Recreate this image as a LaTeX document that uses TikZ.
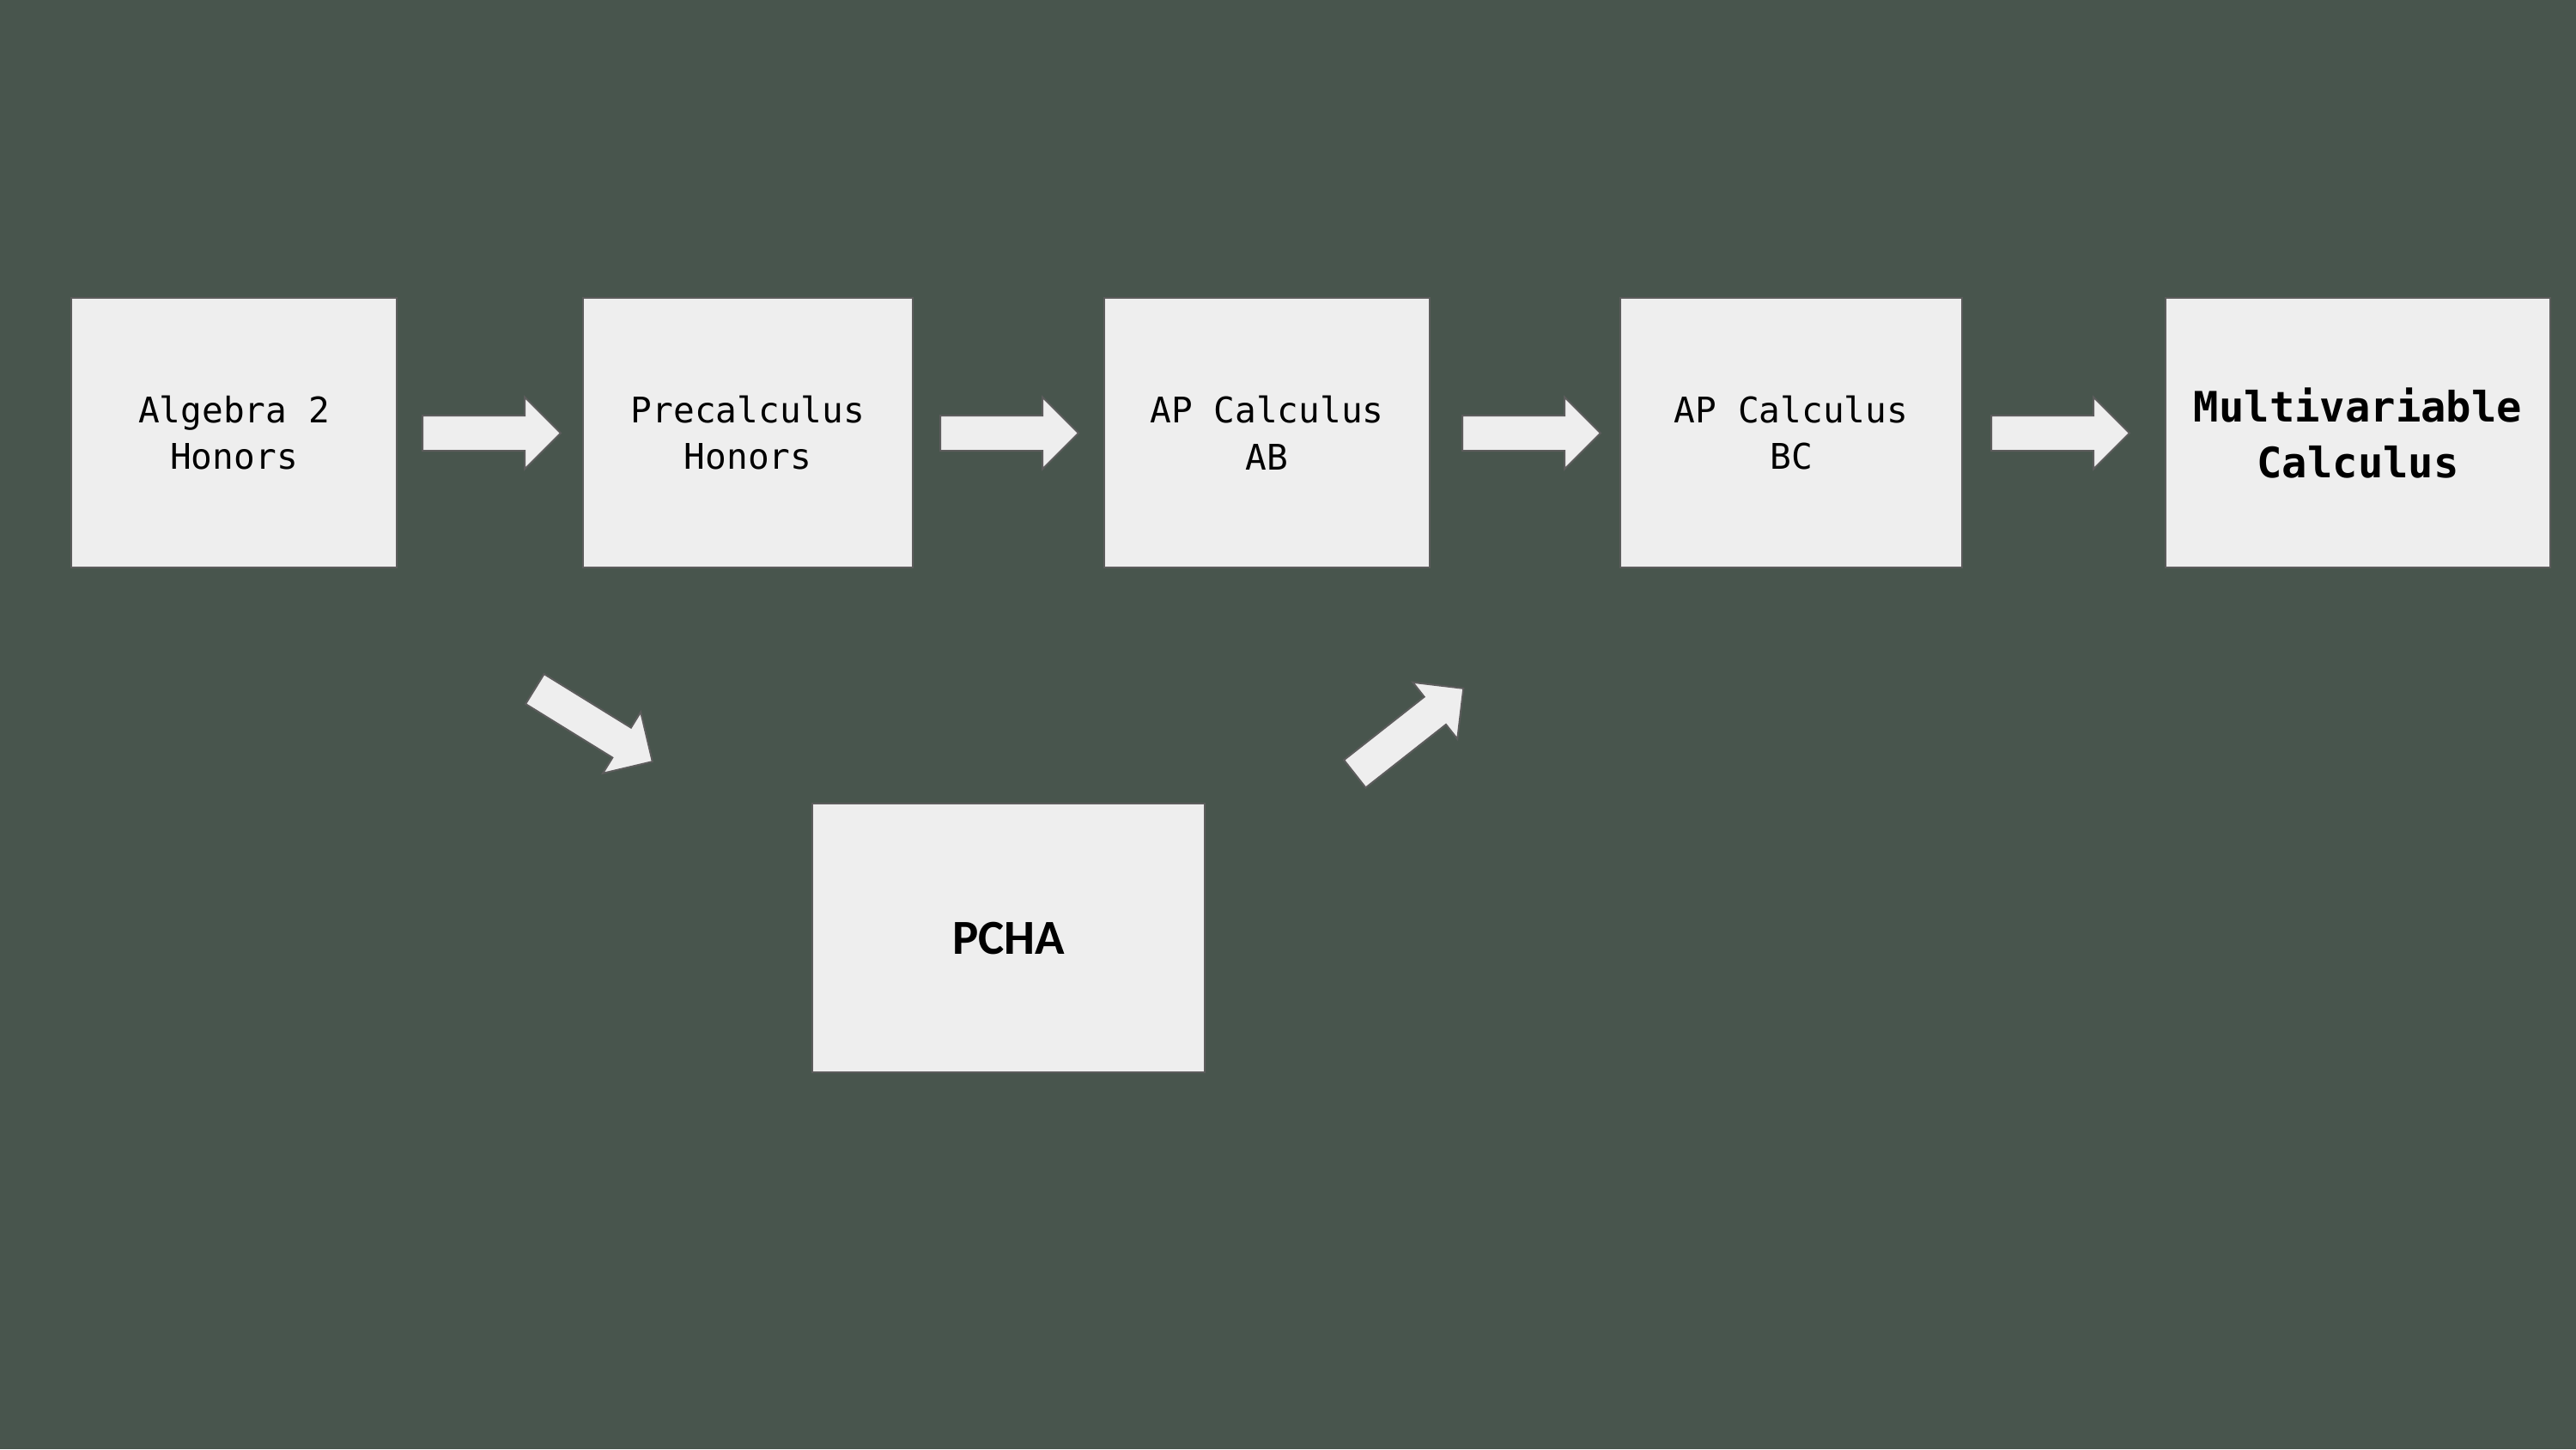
\documentclass[tikz,border=0pt]{standalone}
\usepackage{fontspec}
\setmonofont{DejaVu Sans Mono}
\newfontfamily\pchafont{Carlito}
\usepackage{tikz}
\usetikzlibrary{shapes.geometric, shapes.arrows}
\definecolor{slate}{RGB}{72,85,77}
\definecolor{paper}{RGB}{238,238,238}
\definecolor{edge}{RGB}{92,92,92}

\begin{document}
\begin{tikzpicture}[ ]
%Declaration of styles
	\tikzstyle{course} = [rectangle, minimum height=3.14cm, fill=paper, draw=edge, line width=0.02cm, inner sep=0pt, align=center, text=black, font=\ttfamily\fontsize{11.7pt}{15.6pt}\selectfont] %style for the course boxes
	\tikzstyle{arr} = [single arrow, fill=paper, draw=edge, line width=0.02cm, inner xsep=0pt, inner ysep=0.195cm, minimum height=1.61cm, minimum width=0.82cm, single arrow head extend=0.215cm, anchor=tail] %style for the arrows
%Background
	\fill[slate] (0,0) rectangle (30,-16.88);
%Nodes, the elements of the graphic
	\node (alg) [course, minimum width=3.79cm] at (2.725,-5.04) {Algebra 2\\Honors};
	\node (precalc) [course, minimum width=3.84cm] at (8.71,-5.04) {Precalculus\\Honors};
	\node (calcab) [course, minimum width=3.79cm] at (14.755,-5.04) {AP Calculus\\AB};
	\node (calcbc) [course, minimum width=3.98cm] at (20.86,-5.04) {AP Calculus\\BC};
	\node (multi) [course, minimum width=4.48cm, font=\ttfamily\bfseries\fontsize{13.9pt}{18.5pt}\selectfont] at (27.46,-5.04) {Multivariable\\Calculus};
	\node (pcha) [course, minimum width=4.57cm, minimum height=3.13cm, font=\pchafont\bfseries\fontsize{16.2pt}{19pt}\selectfont] at (11.745,-10.925) {PCHA};
%Arrows between the courses
	\node (arr1) [arr] at (4.91,-5.045) {};
	\node (arr2) [arr] at (10.94,-5.045) {};
	\node (arr3) [arr] at (17.02,-5.045) {};
	\node (arr4) [arr] at (23.18,-5.045) {};
	\node (arrdn) [arr, rotate=-31.7] at (6.22,-8.02) {};
	\node (arrup) [arr, rotate=38.2] at (15.77,-9.02) {};
\end{tikzpicture}
\end{document}
